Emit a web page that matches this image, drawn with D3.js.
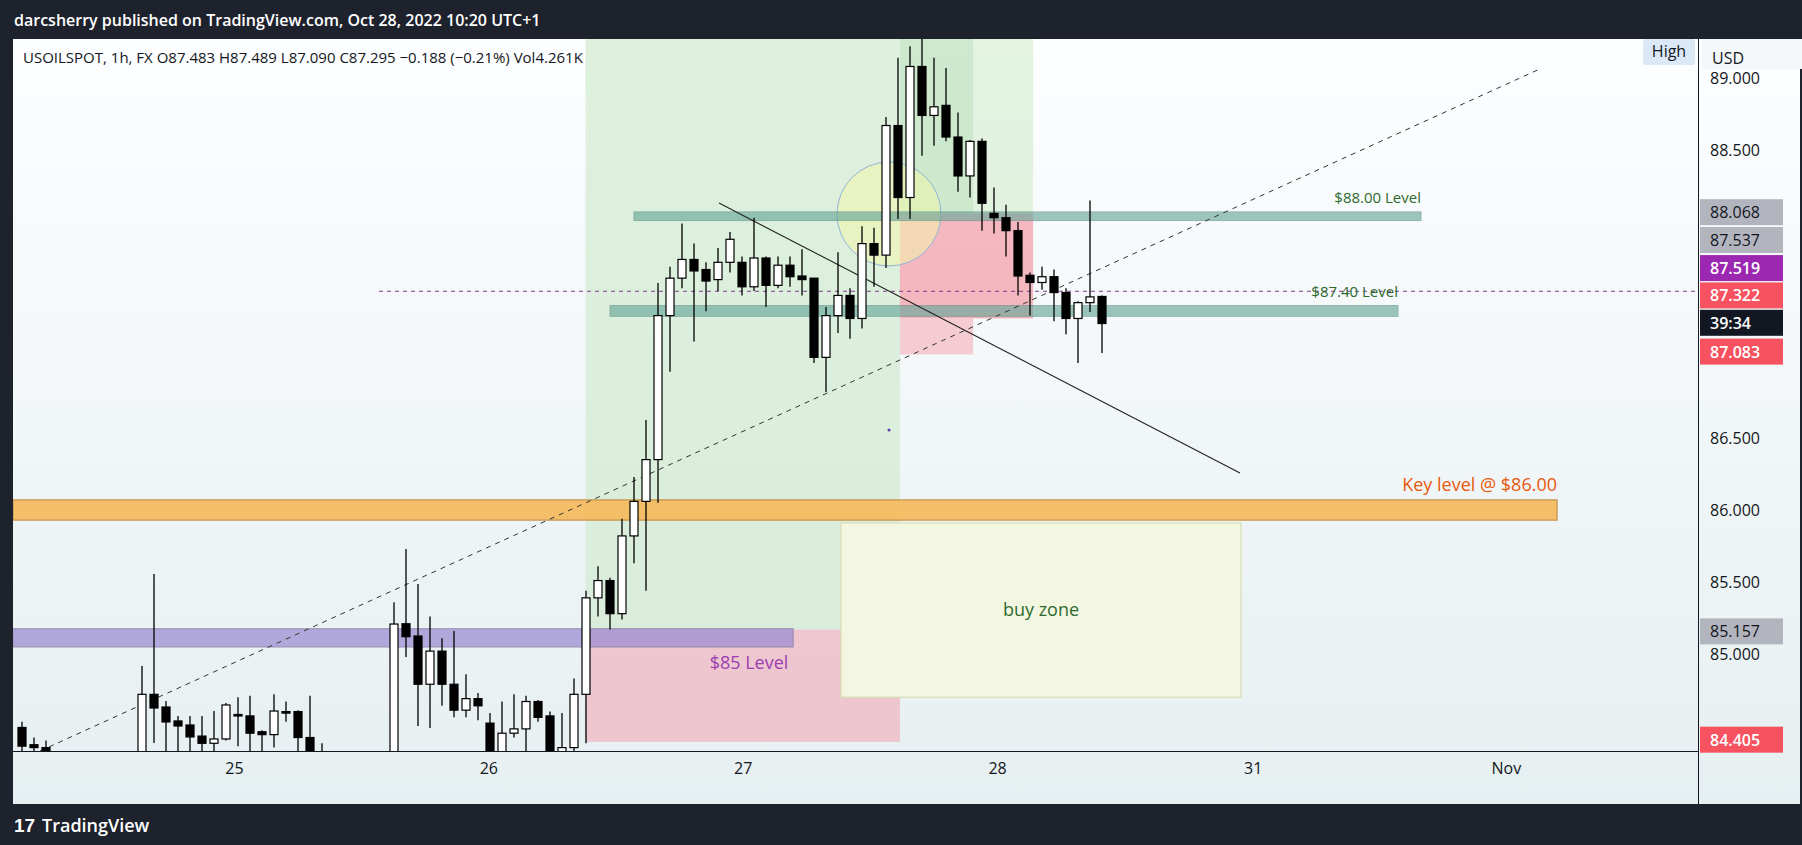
<!DOCTYPE html>
<html><head><meta charset="utf-8">
<script src="https://cdn.jsdelivr.net/npm/d3@7"></script>
<style>body{margin:0;overflow:hidden;background:#1e222d}svg{display:block;font-family:"Open Sans","Noto Sans",sans-serif}</style>
</head><body><svg id="c" width="1802" height="845"></svg>
<script>
// hourly candles, index 0..90
const opens =[84.49,84.37,84.35,84.2,84.1,84.15,84.05,84.1,84.2,84.1,84.2,84.72,84.632,84.535,84.507,84.43,84.38,84.41,84.58,84.57,84.46,84.44,84.60,84.6,84.42,84.28,84.2,84.15,84.1,84.1,84.05,84.2,85.21,85.125,84.79,85.02,84.79,84.61,84.69,84.52,84.3,84.45,84.48,84.67,84.57,84.32,84.35,84.72,85.39,85.51,85.28,85.82,86.06,86.35,87.35,87.61,87.74,87.67,87.6,87.72,87.72,87.55,87.75,87.56,87.70,87.625,87.61,87.06,87.35,87.49,87.33,87.85,87.77,88.67,88.17,89.08,88.74,88.81,88.59,88.32,88.56,88.06,88.03,87.94,87.63,87.58,87.62,87.51,87.33,87.44,87.483];
const highs =[84.53,84.42,84.40,84.25,84.2,84.25,84.2,84.25,84.25,84.2,84.917,85.556,84.674,84.57,84.57,84.57,84.604,84.66,84.70,84.71,84.47,84.72,84.67,84.61,84.71,84.38,84.25,84.2,84.2,84.2,84.25,85.36,85.73,85.486,85.26,85.11,85.16,84.86,84.73,84.59,84.67,84.72,84.71,84.68,84.6,84.59,84.83,85.44,85.61,85.53,85.94,86.23,86.625,87.576,87.69,87.99,87.85,87.72,87.82,87.93,87.76,88.03,87.76,87.76,87.76,87.81,87.61,87.41,87.79,87.54,87.97,87.96,88.73,89.14,89.22,89.28,89.14,89.07,88.76,88.57,88.58,88.24,88.12,88.0,87.65,87.69,87.67,87.54,87.45,88.15,87.489];
const lows  =[84.30,84.32,84.25,84.0,84.0,83.95,83.9,84.0,84.0,84.0,84.1,84.382,84.32,84.3,84.3,84.3,84.3,84.40,84.36,84.3,84.3,84.35,84.53,84.3,84.2,84.1,84.0,84.0,83.95,84.0,84.0,84.1,84.98,84.5,84.486,84.64,84.56,84.56,84.54,84.2,84.2,84.42,84.3,84.53,84.2,84.2,84.3,84.38,85.26,85.17,85.24,85.63,85.44,86.05,86.96,87.54,87.17,87.38,87.52,87.65,87.49,87.52,87.41,87.54,87.55,87.49,87.02,86.82,87.23,87.19,87.26,87.55,87.68,88.02,88.02,88.46,88.53,88.56,88.21,88.17,87.94,87.92,87.76,87.49,87.35,87.53,87.31,87.22,87.02,87.375,87.09];
const closes=[84.36,84.35,84.30,84.15,84.1,84.05,84.1,84.2,84.1,84.2,84.72,84.625,84.528,84.50,84.424,84.38,84.41,84.646,84.57,84.45,84.44,84.604,84.59,84.42,84.28,84.2,84.15,84.1,84.1,84.05,84.2,85.208,85.12,84.79,85.02,84.79,84.61,84.69,84.64,84.3,84.45,84.48,84.67,84.56,84.3,84.35,84.72,85.39,85.51,85.28,85.82,86.06,86.35,87.35,87.61,87.74,87.66,87.59,87.72,87.88,87.55,87.75,87.56,87.70,87.62,87.60,87.06,87.35,87.49,87.33,87.85,87.77,88.67,88.17,89.08,88.74,88.80,88.59,88.32,88.56,88.13,88.03,87.94,87.625,87.58,87.62,87.51,87.33,87.44,87.48,87.295];
const dayTickIdx=[17.7,38.9,60.1,81.3,102.6,123.7];
const dayTickLabels=["25","26","27","28","31","Nov"];
const priceTicks=[85,85.5,86,86.5,88.5,89];
const priceLabels=[{v:88.068,bg:"#b2b5be",fg:"#131722",t:"88.068"},{v:87.537,bg:"#b2b5be",fg:"#131722",t:"87.537",y:87.875},{v:87.519,bg:"#9c27b0",fg:"#fff",t:"87.519",y:87.68},{v:87.322,bg:"#f7525f",fg:"#fff",t:"87.322",y:87.49},{v:0,bg:"#131722",fg:"#fff",t:"39:34",y:87.30},{v:87.083,bg:"#f7525f",fg:"#fff",t:"87.083",y:87.10},{v:85.157,bg:"#b2b5be",fg:"#131722",t:"85.157"},{v:84.405,bg:"#f7525f",fg:"#fff",t:"84.405"}];

const svg=d3.select("#c");
const L=13,R=1698,T=39,B=751;
const x=d3.scaleLinear().domain([0,90]).range([21.5,1101.5]);
const y=d3.scaleLinear().domain([86,88.5]).range([510,150]);
const defs=svg.append("defs");
const g=defs.append("linearGradient").attr("id","bg").attr("x1",0).attr("y1",0).attr("x2",0).attr("y2",1);
g.append("stop").attr("offset","0%").attr("stop-color","#fdfeff");
g.append("stop").attr("offset","100%").attr("stop-color","#e6eff1");
defs.append("clipPath").attr("id","clip").append("rect").attr("x",L).attr("y",T).attr("width",R-L).attr("height",B-T);
svg.append("rect").attr("x",L).attr("y",T).attr("width",1802-L-2).attr("height",804-T).attr("fill","url(#bg)");
const P=svg.append("g").attr("clip-path","url(#clip)");

const ys=v=>y(v);
const xa0=x(47.0), xb=x(73.2), xc=x(79.3), xd=x(84.3);
P.append("rect").attr("x",xa0).attr("y",T).attr("width",xb-xa0).attr("height",ys(85.17)-T).attr("fill","#d4ebd3").attr("opacity",0.75);
P.append("rect").attr("x",xb).attr("y",T).attr("width",xd-xb).attr("height",ys(88.06)-T).attr("fill","#d9efd6").attr("opacity",0.75);
P.append("rect").attr("x",xb).attr("y",T).attr("width",xc-xb).attr("height",ys(88.06)-T).attr("fill","#bfe3bf").attr("opacity",0.6);
P.append("rect").attr("x",xb).attr("y",ys(88.06)).attr("width",xd-xb).attr("height",ys(87.33)-ys(88.06)).attr("fill","#f48a98").attr("opacity",0.6);
P.append("rect").attr("x",xb).attr("y",ys(87.33)).attr("width",xc-xb).attr("height",ys(87.08)-ys(87.33)).attr("fill","#f5a7b3").attr("opacity",0.55);
P.append("rect").attr("x",xa0).attr("y",ys(85.17)).attr("width",xb-xa0).attr("height",ys(84.39)-ys(85.17)).attr("fill","#f0b3bf").attr("opacity",0.7);
P.append("rect").attr("x",841).attr("y",ys(85.91)).attr("width",400).attr("height",ys(84.7)-ys(85.91)).attr("fill","#f3f7e2").attr("stroke","#d7ddb5").attr("stroke-width",1.2);
P.append("circle").attr("cx",889).attr("cy",214).attr("r",52).attr("fill","rgba(240,245,170,0.55)").attr("stroke","#8fb4d8").attr("stroke-width",1);
P.append("rect").attr("x",L).attr("y",ys(86.07)).attr("width",1557-L).attr("height",ys(85.93)-ys(86.07)).attr("fill","#f6b95a").attr("opacity",0.9).attr("stroke","#c8964a").attr("stroke-width",1.5);
P.append("rect").attr("x",L).attr("y",ys(85.175)).attr("width",793-L).attr("height",ys(85.05)-ys(85.175)).attr("fill","#9d90d2").attr("opacity",0.75).attr("stroke","#8a80b0").attr("stroke-width",1.5);
P.append("rect").attr("x",634).attr("y",ys(88.07)).attr("width",1421-634).attr("height",ys(88.01)-ys(88.07)).attr("fill","#6aa99a").attr("opacity",0.65).attr("stroke","#5f8f84");
P.append("rect").attr("x",610).attr("y",ys(87.42)).attr("width",1398-610).attr("height",ys(87.345)-ys(87.42)).attr("fill","#6aa99a").attr("opacity",0.65).attr("stroke","#5f8f84");
P.append("line").attr("x1",40).attr("y1",751).attr("x2",1542).attr("y2",68).attr("stroke","#333").attr("stroke-width",1).attr("stroke-dasharray","5,5");
P.append("line").attr("x1",719).attr("y1",203).attr("x2",1240).attr("y2",473).attr("stroke","#222").attr("stroke-width",1.1);
P.append("line").attr("x1",379).attr("x2",R).attr("y1",ys(87.519)).attr("y2",ys(87.519)).attr("stroke","#7a3a8a").attr("stroke-width",1).attr("stroke-dasharray","4,4");
P.append("circle").attr("cx",889).attr("cy",430).attr("r",1.5).attr("fill","#5a3bb0");

const idx=d3.range(opens.length);
const cg=P.append("g");
cg.selectAll("line.w").data(idx).join("line").attr("x1",i=>x(i)+0.5).attr("x2",i=>x(i)+0.5)
 .attr("y1",i=>y(highs[i])).attr("y2",i=>y(lows[i])).attr("stroke","#000").attr("stroke-width",1.3);
cg.selectAll("rect.b").data(idx).join("rect").attr("x",i=>x(i)-3.5).attr("width",8)
 .attr("y",i=>y(Math.max(opens[i],closes[i]))).attr("height",i=>Math.max(1.5,Math.abs(y(opens[i])-y(closes[i]))))
 .attr("fill",i=>closes[i]>=opens[i]?"#fff":"#000").attr("stroke","#000").attr("stroke-width",1.2);

const txt=(xx,yy,t,opt)=>{const e=svg.append("text").attr("x",xx).attr("y",yy).text(t);for(const k in opt)e.attr(k,opt[k]);return e;};
txt(1421,203,"$88.00 Level",{"text-anchor":"end","font-size":15,fill:"#2e6b2e"});
txt(1398,297,"$87.40 Level",{"text-anchor":"end","font-size":15,fill:"#2e6b2e"});
txt(1557,491,"Key level @ $86.00",{"text-anchor":"end","font-size":18,fill:"#e8590c"});
txt(749,669,"$85 Level",{"text-anchor":"middle","font-size":18,fill:"#9c3fb0"});
txt(1041,616,"buy zone",{"text-anchor":"middle","font-size":18,fill:"#2e6b2e"});
txt(23,63,"USOILSPOT, 1h, FX  O87.483  H87.489  L87.090  C87.295  −0.188 (−0.21%)  Vol4.261K",{"font-size":15,fill:"#131722"});

svg.append("line").attr("x1",L).attr("x2",R).attr("y1",B+0.5).attr("y2",B+0.5).attr("stroke","#131722");
svg.append("line").attr("x1",R+0.5).attr("x2",R+0.5).attr("y1",T).attr("y2",804).attr("stroke","#131722");
const xa=d3.axisBottom(x).tickValues(dayTickIdx).tickFormat((d,i)=>dayTickLabels[i]).tickSize(0).tickPadding(12);
svg.append("g").attr("transform",`translate(0,${B})`).call(xa).call(a=>a.select(".domain").remove()).selectAll("text").attr("font-size",16).attr("fill","#131722").attr("font-family","Open Sans");
const ya=d3.axisRight(y).tickValues(priceTicks).tickFormat(d3.format(".3f")).tickSize(0).tickPadding(12);
svg.append("g").attr("transform",`translate(${R},0)`).call(ya).call(a=>a.select(".domain").remove()).selectAll("text").attr("font-size",16).attr("fill","#131722").attr("font-family","Open Sans");
svg.append("rect").attr("x",1702).attr("y",39).attr("width",100).attr("height",30).attr("fill","#f4f8f9");
txt(1712,64,"USD",{"font-size":16,fill:"#131722"});
svg.append("rect").attr("x",1643).attr("y",39).attr("width",52).attr("height",26).attr("rx",2).attr("fill","#dbe9f6");
txt(1669,57,"High",{"text-anchor":"middle","font-size":16,fill:"#131722"});
const pl=svg.append("g");
priceLabels.forEach(p=>{const cy=y(p.y!==undefined?p.y:p.v);
 pl.append("rect").attr("x",R+2).attr("y",cy-13).attr("width",83).attr("height",26).attr("fill",p.bg);
 pl.append("text").attr("x",R+12).attr("y",cy+6).text(p.t).attr("font-size",16).attr("font-weight",p.fg=="#fff"?600:400).attr("fill",p.fg);});
svg.append("rect").attr("x",0).attr("y",0).attr("width",1802).attr("height",39).attr("fill","#1e222d");
txt(14,26,"darcsherry published on TradingView.com, Oct 28, 2022 10:20 UTC+1",{"font-size":16,fill:"#fff","font-weight":600});
svg.append("rect").attr("x",0).attr("y",804).attr("width",1802).attr("height",41).attr("fill","#1e222d");
txt(14,832,"17",{"font-size":19,fill:"#fff","font-weight":800,"font-family":"Arial"});
txt(42,832,"TradingView",{"font-size":18,fill:"#fff","font-weight":600});
</script></body></html>
